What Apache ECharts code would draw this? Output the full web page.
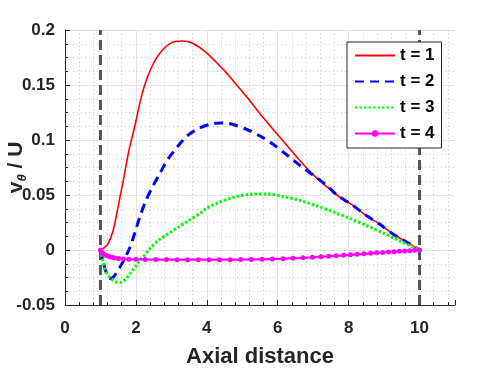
<!DOCTYPE html>
<html>
<head>
<meta charset="utf-8">
<script src="https://cdn.jsdelivr.net/npm/echarts@6/dist/echarts.min.js"></script>
<style>
html, body { margin: 0; padding: 0; background: #fff; }
#chart { width: 502px; height: 371px; }
</style>
</head>
<body>
<div id="chart"></div>
<script>
// data
var seriesNames = ['t = 1', 't = 2', 't = 3', 't = 4'];

var x1 = [1.0, 1.1, 1.22, 1.36, 1.46, 1.55, 1.65, 1.8, 2.0, 2.15, 2.31, 2.5, 2.68, 2.85, 3.05, 3.3, 3.6, 4.0, 4.47, 4.66, 5.13, 5.6, 6.17, 6.92, 7.67, 8.1, 8.47, 8.9, 9.23, 9.7, 10.0];
var y1 = [0, 0.002, 0.006, 0.018, 0.033, 0.048, 0.064, 0.09, 0.117, 0.139, 0.156, 0.17, 0.179, 0.185, 0.189, 0.19, 0.188, 0.179, 0.164, 0.157, 0.139, 0.12, 0.0985, 0.071, 0.05, 0.041, 0.032, 0.023, 0.015, 0.006, 0];

var x2 = [1.0, 1.08, 1.18, 1.28, 1.38, 1.5, 1.63, 1.84, 1.98, 2.12, 2.29, 2.48, 2.7, 2.89, 3.15, 3.44, 3.8, 4.19, 4.4, 4.64, 5.1, 5.5, 5.86, 6.26, 6.62, 7.0, 7.37, 7.67, 8.1, 8.47, 8.9, 9.23, 9.7, 10.0];
var y2 = [0, -0.011, -0.022, -0.026, -0.024, -0.018, -0.011, 0.003, 0.0167, 0.031, 0.0455, 0.058, 0.071, 0.082, 0.093, 0.1036, 0.111, 0.115, 0.1155, 0.115, 0.11, 0.1036, 0.0964, 0.0864, 0.077, 0.068, 0.059, 0.05, 0.041, 0.032, 0.023, 0.015, 0.006, 0];

var x3 = [1.0, 1.06, 1.13, 1.27, 1.4, 1.55, 1.7, 1.84, 2.02, 2.21, 2.4, 2.64, 2.92, 3.2, 3.5, 3.81, 4.0, 4.28, 4.75, 5.23, 5.7, 6.17, 6.64, 7.11, 7.58, 8.05, 8.52, 9.0, 9.46, 10.0];
var y3 = [0, -0.009, -0.018, -0.025, -0.0285, -0.0295, -0.027, -0.021, -0.0136, -0.006, 0.0015, 0.009, 0.015, 0.021, 0.027, 0.0333, 0.038, 0.0424, 0.048, 0.0506, 0.051, 0.0485, 0.045, 0.04, 0.0345, 0.0285, 0.022, 0.015, 0.008, 0];

var x4 = [1.0, 1.02, 1.05, 1.1, 1.17, 1.25, 1.33, 1.41, 1.51, 1.65, 1.8, 2.0, 2.26, 2.56, 2.86, 3.16, 3.46, 3.76, 4.06, 4.36, 4.66, 4.96, 5.26, 5.56, 5.85, 6.15, 6.43, 6.71, 6.98, 7.22, 7.44, 7.65, 7.86, 8.05, 8.24, 8.43, 8.62, 8.79, 8.96, 9.13, 9.28, 9.43, 9.58, 9.72, 9.86, 10.0];
var y4 = [0, -0.0012, -0.0025, -0.0038, -0.005, -0.006, -0.0067, -0.0073, -0.0077, -0.0081, -0.0083, -0.0085, -0.0086, -0.0087, -0.0087, -0.0088, -0.0088, -0.0088, -0.0088, -0.0088, -0.0088, -0.0087, -0.0086, -0.0085, -0.0082, -0.0079, -0.0075, -0.0071, -0.0066, -0.0061, -0.0057, -0.0052, -0.0048, -0.0044, -0.0039, -0.0035, -0.003, -0.0026, -0.0022, -0.0018, -0.0015, -0.0012, -0.0009, -0.0006, -0.0003, 0];

var wallX = [1, 10];
var xTicks = [0, 2, 4, 6, 8, 10];
var yTicks = [-0.05, 0, 0.05, 0.1, 0.15, 0.2];

var font = 'Liberation Sans, Arial, sans-serif';
var axisColor = '#262626';

function zip(xs, ys){
    var out = [];
    for(var i = 0; i < xs.length; i++){
        out.push([xs[i], ys[i]]);
    }
    return out;
}

var chart = echarts.init(document.getElementById('chart'), null, {renderer: 'canvas'});

var series = [];
// dashed walls first so curves sit on top
for(var w = 0; w < wallX.length; w++){
    series.push({
        name: 'wall' + w,
        type: 'line',
        data: [[wallX[w], yTicks[0]], [wallX[w], yTicks[yTicks.length - 1]]],
        showSymbol: false,
        silent: true,
        lineStyle: {color: '#555555', width: 3, type: [10, 5]},
        z: 1
    });
}
series.push({
    name: seriesNames[0], type: 'line', data: zip(x1, y1),
    smooth: 0.3, showSymbol: false, color: '#ff0000',
    lineStyle: {width: 1.6}, z: 3
});
series.push({
    name: seriesNames[1], type: 'line', data: zip(x2, y2),
    smooth: 0.3, showSymbol: false, color: '#0000ff',
    lineStyle: {width: 3, type: [9, 6]}, z: 3
});
series.push({
    name: seriesNames[2], type: 'line', data: zip(x3, y3),
    smooth: 0.3, showSymbol: false, color: '#00ff00',
    lineStyle: {width: 3, type: [2.5, 2]}, z: 3
});
series.push({
    name: seriesNames[3], type: 'line', data: zip(x4, y4),
    symbol: 'circle', symbolSize: 5, showAllSymbol: true, color: '#ff00ff',
    lineStyle: {width: 2.2}, z: 4
});

var option = {
    backgroundColor: '#ffffff',
    animation: false,
    grid: {left: 65, right: 47, top: 30, bottom: 66, outerBoundsMode: 'none', containLabel: false},
    legend: {
        data: [
            {name: seriesNames[0], itemStyle: {opacity: 0}},
            {name: seriesNames[1], itemStyle: {opacity: 0}},
            {name: seriesNames[2], itemStyle: {opacity: 0}},
            {name: seriesNames[3]}
        ],
        orient: 'vertical',
        left: 347,
        top: 42,
        padding: [5, 7, 6, 7],
        itemGap: 9,
        itemWidth: 40,
        itemHeight: 8,
        backgroundColor: '#ffffff',
        borderColor: '#262626',
        borderWidth: 1,
        borderRadius: 0,
        textStyle: {fontFamily: font, fontWeight: 'bold', fontSize: 17, color: '#000000', padding: [0, 0, 0, 0]}
    },
    xAxis: {
        type: 'value',
        min: xTicks[0],
        max: 11,
        interval: 2,
        name: 'Axial distance',
        nameLocation: 'middle',
        nameGap: 41,
        nameMoveOverlap: false,
        nameTextStyle: {fontFamily: font, fontWeight: 'bold', fontSize: 22, color: axisColor},
        axisLine: {show: true, onZero: false, lineStyle: {color: axisColor, width: 1}},
        axisTick: {show: true, inside: true, length: 5, lineStyle: {color: axisColor}},
        minorTick: {show: true, splitNumber: 5, length: 3, lineStyle: {color: axisColor}},
        axisLabel: {fontFamily: font, fontWeight: 'bold', fontSize: 17, color: axisColor, margin: 15, showMaxLabel: false},
        splitLine: {show: true, showMaxLine: false, lineStyle: {color: '#e3e3e3', width: 1}},
        minorSplitLine: {show: true, lineStyle: {color: '#c8c8c8', width: 1, type: [1, 3]}}
    },
    yAxis: {
        type: 'value',
        min: yTicks[0],
        max: yTicks[yTicks.length - 1],
        interval: 0.05,
        name: '{v|v}{s|θ}{v| / U}',
        nameLocation: 'middle',
        nameRotate: 90,
        nameGap: 36,
        nameMoveOverlap: false,
        nameTextStyle: {
            fontFamily: font, fontWeight: 'bold', fontSize: 21, color: axisColor,
            rich: {
                v: {fontFamily: font, fontWeight: 'bold', fontSize: 21, color: axisColor, lineHeight: 26},
                s: {fontFamily: font, fontWeight: 'bold', fontStyle: 'italic', fontSize: 13, color: axisColor, lineHeight: 14, verticalAlign: 'bottom'}
            }
        },
        axisLine: {show: true, onZero: false, lineStyle: {color: axisColor, width: 1}},
        axisTick: {show: true, inside: true, length: 5, lineStyle: {color: axisColor}},
        minorTick: {show: true, splitNumber: 4, length: 3, lineStyle: {color: axisColor}},
        axisLabel: {fontFamily: font, fontWeight: 'bold', fontSize: 17, color: axisColor, margin: 10},
        splitLine: {show: true, lineStyle: {color: '#e3e3e3', width: 1}},
        minorSplitLine: {show: true, lineStyle: {color: '#c8c8c8', width: 1, type: [1, 3]}}
    },
    series: series
};
chart.setOption(option);
</script>
</body>
</html>
